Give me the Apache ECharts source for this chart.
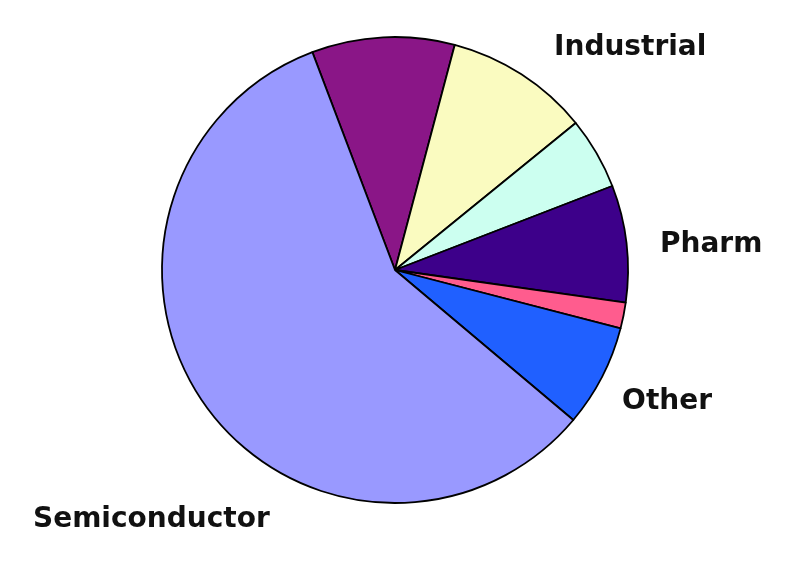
<!DOCTYPE html>
<html>
<head>
<meta charset="utf-8">
<script src="https://cdn.jsdelivr.net/npm/echarts@6/dist/echarts.min.js"></script>
<style>
html,body{margin:0;padding:0;background:#fff;}
#chart{width:800px;height:566px;}
</style>
</head>
<body>
<div id="chart"></div>
<script>
// Slices in clockwise order, starting just left of 12 o'clock
var categories = ['', 'Industrial', '', 'Pharm', '', 'Other', 'Semiconductor'];
var values = [9.9, 10.0, 5.0, 8.1, 1.8, 7.1, 58.1];
var colors = ['#8A1687', '#FAFBC0', '#CCFFF0', '#3D008A', '#FF5C8E', '#2060FF', '#9999FF'];

// label placement tuning (style only)
var labelCfg = {
  'Industrial':    {alignTo: 'none', len: 31.3, len2: 10.6},
  'Pharm':         {alignTo: 'none', len: -13.9, len2: 42.3},
  'Other':         {alignTo: 'edge', len: 55, len2: 10, edge: 88},
  'Semiconductor': {alignTo: 'edge', len: 199.1, len2: 10, edge: 33}
};

var data = categories.map(function (name, i) {
  var item = {name: name || ('s' + i), value: values[i], itemStyle: {color: colors[i]}};
  var cfg = labelCfg[name];
  if (cfg) {
    item.label = {show: true, alignTo: cfg.alignTo, edgeDistance: cfg.edge || 0};
    item.labelLine = {show: false, length: cfg.len, length2: cfg.len2};
  } else {
    item.label = {show: false};
    item.labelLine = {show: false};
  }
  return item;
});

var chart = echarts.init(document.getElementById('chart'), null, {renderer: 'canvas'});
chart.setOption({
  animation: false,
  backgroundColor: '#ffffff',
  series: [{
    type: 'pie',
    center: [395, 270],
    radius: [0, 233],
    startAngle: 110.77,
    clockwise: true,
    avoidLabelOverlap: false,
    itemStyle: {borderColor: '#000', borderWidth: 1.8},
    label: {
      position: 'outside',
      formatter: '{b}',
      fontFamily: 'DejaVu Sans',
      fontWeight: 'bold',
      fontSize: 28,
      color: '#111',
      distanceToLabelLine: 5
    },
    labelLine: {show: false},
    emphasis: {disabled: true},
    data: data
  }]
});
</script>
</body>
</html>
